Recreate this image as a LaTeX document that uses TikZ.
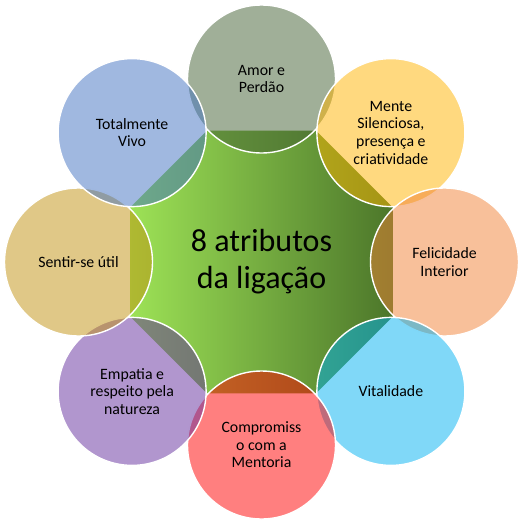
\documentclass[tikz,border=0pt]{standalone}
\usepackage{fontspec}
\setmainfont{Carlito}
\usetikzlibrary{shapes.geometric,calc}
\definecolor{cAmor}{RGB}{65,95,49}
\definecolor{cMente}{RGB}{255,179,0}
\definecolor{cFeli}{RGB}{241,129,53}
\definecolor{cVital}{RGB}{1,177,241}
\definecolor{cComp}{RGB}{255,0,0}
\definecolor{cEmp}{RGB}{99,45,157}
\definecolor{cSentir}{RGB}{193,145,15}
\definecolor{cTotal}{RGB}{65,113,193}
\definecolor{gLeft}{RGB}{157,226,86}
\definecolor{gMid}{RGB}{132,194,72}
\definecolor{gRight}{RGB}{76,118,42}
\tikzset{
  attr/.style={circle, minimum size=148pt, inner sep=0pt, outer sep=0pt,
    fill=#1, fill opacity=0.5, text opacity=1, draw=white, line width=1.4pt,
    align=center, font=\fontsize{15.8}{17.6}\selectfont},
  hub/.style={regular polygon, regular polygon sides=8, minimum size=284.4pt,
    inner sep=0pt, outer sep=0pt, left color=gLeft, middle color=gMid, right color=gRight,
    align=center, font=\fontsize{32}{37}\selectfont}
}
\begin{document}
\begin{tikzpicture}[x=1pt,y=-1pt]
\useasboundingbox (0,0) rectangle (527,528);
\coordinate (c) at (261.5,262);
\node[hub] (hub) at (c) {8 atributos\\da ligação};
\node[attr=cAmor]   (amor)   at ($(c)+(0,-183)$) {Amor e\\Perdão};
\node[attr=cMente]  (mente)  at ($(c)+(129.4,-129.4)$) {Mente\\Silenciosa,\\presença e\\criatividade};
\node[attr=cFeli]   (feli)   at ($(c)+(183,0)$) {Felicidade\\Interior};
\node[attr=cVital]  (vital)  at ($(c)+(129.4,129.4)$) {Vitalidade};
\node[attr=cComp]   (comp)   at ($(c)+(0,183)$) {Compromiss\\o com a\\Mentoria};
\node[attr=cEmp]    (emp)    at ($(c)+(-129.4,129.4)$) {Empatia e\\respeito pela\\natureza};
\node[attr=cSentir] (sentir) at ($(c)+(-183,0)$) {Sentir-se útil};
\node[attr=cTotal]  (total)  at ($(c)+(-129.4,-129.4)$) {Totalmente\\Vivo};
\end{tikzpicture}
\end{document}
